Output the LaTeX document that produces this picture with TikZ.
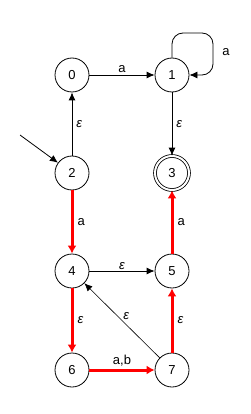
\documentclass[tikz,border=0pt]{standalone}
\usepackage{fontspec}
\setmainfont{Liberation Sans}
\usetikzlibrary{arrows.meta}
\newcommand{\eps}{\textit{ε}}
\begin{document}
\begin{tikzpicture}[x=1pt,y=-1pt,
  st/.style={circle,draw,line width=0.8pt,minimum size=34pt,inner sep=0pt,font=\fontsize{13}{15}\selectfont},
  acc/.style={st,double,double distance=2pt},
  bl/.style={draw,line width=0.8pt,-{Latex[length=8pt,width=7pt]}},
  rd/.style={draw,red,line width=3pt,-{Latex[length=8pt,width=9pt]}},
  lb/.style={font=\fontsize{13}{15}\selectfont,inner sep=1pt}]
\useasboundingbox (0,0) rectangle (250,414);
\node[st] (n0) at (72,75) {0};
\node[st] (n1) at (172,75) {1};
\node[st] (n2) at (72,173) {2};
\node[acc] (n3) at (172,173) {3};
\node[st] (n4) at (72,271) {4};
\node[st] (n5) at (172,271) {5};
\node[st] (n6) at (72,370) {6};
\node[st] (n7) at (172,370) {7};
\coordinate (init) at (20,135);
\coordinate (lpa) at (172,33);
\coordinate (lpb) at (213,33);
\coordinate (lpc) at (213,75);
\path[bl] (init) -- (n2);
\path[bl] (n0) -- node[lb,above=1pt] {a} (n1);
\path[bl,rounded corners=11pt] (n1.north) -- (lpa) -- (lpb) -- (lpc) -- (n1.east);
\node[lb] (la) at (226,52) {a};
\path[bl] (n2) -- node[lb,right=3pt] {\eps} (n0);
\path[bl] (n1) -- node[lb,right=3pt] {\eps} (n3);
\path[rd] (n2) -- node[lb,right=3pt,black] {a} (n4);
\path[rd] (n5) -- node[lb,right=3pt,black] {a} (n3);
\path[bl] (n4) -- node[lb,above=0pt] {\eps} (n5);
\path[rd] (n4) -- node[lb,right=3pt,black] {\eps} (n6);
\path[rd] (n7) -- node[lb,right=3pt,black] {\eps} (n5);
\path[bl,line width=0.6pt] (n7) -- node[lb,above right=0pt] {\eps} (n4);
\path[rd] (n6) -- node[lb,above=1pt,black] {a,b} (n7);
\end{tikzpicture}
\end{document}
